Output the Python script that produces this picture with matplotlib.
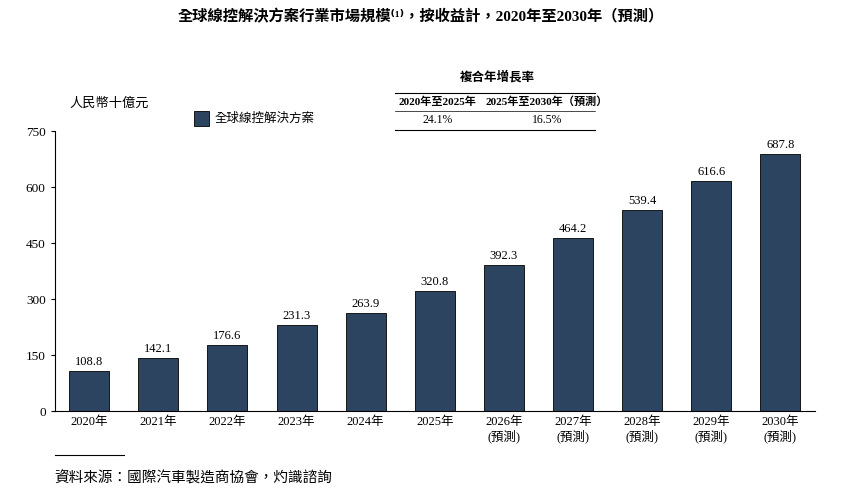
import matplotlib.pyplot as plt

plt.rcParams['font.family'] = ['Liberation Serif', 'Noto Sans CJK TC', 'DejaVu Sans']

years = ["2020年", "2021年", "2022年", "2023年", "2024年", "2025年",
         "2026年\n(預測)", "2027年\n(預測)", "2028年\n(預測)", "2029年\n(預測)", "2030年\n(預測)"]
values = [108.8, 142.1, 176.6, 231.3, 263.9, 320.8, 392.3, 464.2, 539.4, 616.6, 687.8]
cagr_periods = ["2020年至2025年", "2025年至2030年（預測）"]
cagr_values = ["24.1%", "16.5%"]
color = "#2d4461"

fig = plt.figure(figsize=(8.41, 4.93), dpi=100)
ax = fig.add_axes([0.065, 0.166, 0.904, 0.568])
x = range(len(values))
ax.bar(x, values, width=0.58, color=color, edgecolor="black", linewidth=0.6)
for xi, v in zip(x, values):
    ax.text(xi, v + 8, f"{v:.1f}", ha="center", va="bottom", fontsize=9)

ax.set_xlim(-0.5, len(values) - 0.5)
ax.set_ylim(0, 750)
ax.set_yticks([0, 150, 300, 450, 600, 750])
ax.set_xticks(list(x))
ax.set_xticklabels(years, fontsize=9, linespacing=1.1)
ax.tick_params(axis="y", labelsize=9.5, length=3)
ax.tick_params(axis="x", length=0)
ax.spines["top"].set_visible(False)
ax.spines["right"].set_visible(False)

fig.text(0.5, 0.965, "全球線控解決方案行業市場規模⁽¹⁾，按收益計，2020年至2030年（預測）",
         ha="center", va="center", fontsize=11, fontweight="bold")
fig.text(0.13, 0.789, "人民幣十億元", ha="center", va="center", fontsize=9.5, style="italic")

# legend
fig.patches.append(plt.Rectangle((0.231, 0.745), 0.017, 0.03, transform=fig.transFigure,
                                 facecolor=color, edgecolor="black", linewidth=0.6))
fig.text(0.255, 0.759, "全球線控解決方案", ha="left", va="center", fontsize=9)

# CAGR table
fig.text(0.591, 0.844, "複合年增長率", ha="center", va="center", fontsize=9, fontweight="bold")
fig.add_artist(plt.Line2D([0.47, 0.707], [0.812, 0.812], color="black", lw=0.8))
fig.add_artist(plt.Line2D([0.47, 0.707], [0.775, 0.775], color="black", lw=0.5))
fig.add_artist(plt.Line2D([0.47, 0.707], [0.737, 0.737], color="black", lw=0.8))
fig.text(0.52, 0.793, cagr_periods[0], ha="center", va="center", fontsize=8, fontweight="bold")
fig.text(0.65, 0.793, cagr_periods[1], ha="center", va="center", fontsize=8, fontweight="bold")
fig.text(0.52, 0.756, cagr_values[0], ha="center", va="center", fontsize=8.5)
fig.text(0.65, 0.756, cagr_values[1], ha="center", va="center", fontsize=8.5)

# source
fig.add_artist(plt.Line2D([0.065, 0.148], [0.077, 0.077], color="black", lw=0.8))
fig.text(0.065, 0.03, "資料來源：國際汽車製造商協會，灼識諮詢", ha="left", va="center",
         fontsize=10.5, style="italic")

fig.savefig("out.png", dpi=100)
